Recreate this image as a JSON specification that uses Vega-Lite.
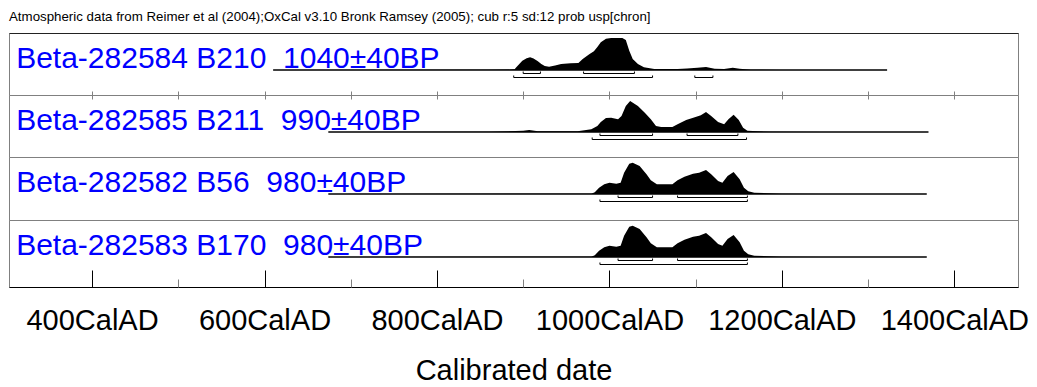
{
  "$schema": "https://vega.github.io/schema/vega-lite/v6.json",
  "autosize": {"type": "pad"},
  "padding": {"left": 8, "top": 10, "right": 12, "bottom": 2},
  "background": "white",
  "title": {"text": "Atmospheric data from Reimer et al (2004);OxCal v3.10 Bronk Ramsey (2005); cub r:5 sd:12 prob usp[chron]", "anchor": "start", "frame": "group", "font": "Liberation Sans", "fontSize": 13.3, "fontWeight": "normal", "color": "#000000", "baseline": "alphabetic", "offset": -2},
  "spacing": 0,
  "bounds": "flush",
  "config": {"view": {"stroke": "#808080", "strokeWidth": 1}, "axis": {"grid": false}},
  "datasets": {
    "dens": [
      {"s": "B210", "year": 610, "p": 0}, {"s": "B210", "year": 860, "p": 0.2}, {"s": "B210", "year": 886, "p": 0.4}, {"s": "B210", "year": 890, "p": 0.8}, {"s": "B210", "year": 892, "p": 2.7}, {"s": "B210", "year": 899, "p": 9.3}, {"s": "B210", "year": 904, "p": 11.8}, {"s": "B210", "year": 908, "p": 12.7}, {"s": "B210", "year": 912, "p": 11.5}, {"s": "B210", "year": 917, "p": 8.7}, {"s": "B210", "year": 921, "p": 6}, {"s": "B210", "year": 925, "p": 4}, {"s": "B210", "year": 930, "p": 3.3}, {"s": "B210", "year": 937, "p": 4.5}, {"s": "B210", "year": 944, "p": 6}, {"s": "B210", "year": 955, "p": 6.7}, {"s": "B210", "year": 964, "p": 7}, {"s": "B210", "year": 969, "p": 11}, {"s": "B210", "year": 977, "p": 16}, {"s": "B210", "year": 982, "p": 18.7}, {"s": "B210", "year": 986, "p": 23}, {"s": "B210", "year": 990, "p": 27.7}, {"s": "B210", "year": 996, "p": 31.3}, {"s": "B210", "year": 1002, "p": 32}, {"s": "B210", "year": 1015, "p": 32}, {"s": "B210", "year": 1019, "p": 30}, {"s": "B210", "year": 1023, "p": 19.3}, {"s": "B210", "year": 1027, "p": 11}, {"s": "B210", "year": 1033, "p": 6}, {"s": "B210", "year": 1040, "p": 2.7}, {"s": "B210", "year": 1052, "p": 1}, {"s": "B210", "year": 1079, "p": 1}, {"s": "B210", "year": 1090, "p": 1.6}, {"s": "B210", "year": 1102, "p": 2.3}, {"s": "B210", "year": 1112, "p": 3}, {"s": "B210", "year": 1122, "p": 1.3}, {"s": "B210", "year": 1133, "p": 1}, {"s": "B210", "year": 1143, "p": 2.3}, {"s": "B210", "year": 1151, "p": 1.3}, {"s": "B210", "year": 1164, "p": 0.3}, {"s": "B210", "year": 1200, "p": 0.1}, {"s": "B210", "year": 1322, "p": 0},
      {"s": "B211", "year": 674, "p": 0}, {"s": "B211", "year": 860, "p": 0.2}, {"s": "B211", "year": 900, "p": 1.2}, {"s": "B211", "year": 907, "p": 2}, {"s": "B211", "year": 917, "p": 0.7}, {"s": "B211", "year": 963, "p": 0.7}, {"s": "B211", "year": 979, "p": 2.7}, {"s": "B211", "year": 986, "p": 6}, {"s": "B211", "year": 990, "p": 10}, {"s": "B211", "year": 996, "p": 14}, {"s": "B211", "year": 1002, "p": 14.3}, {"s": "B211", "year": 1010, "p": 12.7}, {"s": "B211", "year": 1014, "p": 16}, {"s": "B211", "year": 1019, "p": 26}, {"s": "B211", "year": 1024, "p": 31}, {"s": "B211", "year": 1033, "p": 26}, {"s": "B211", "year": 1041, "p": 19.3}, {"s": "B211", "year": 1048, "p": 12.7}, {"s": "B211", "year": 1054, "p": 6}, {"s": "B211", "year": 1060, "p": 5}, {"s": "B211", "year": 1073, "p": 5}, {"s": "B211", "year": 1079, "p": 7.7}, {"s": "B211", "year": 1089, "p": 12}, {"s": "B211", "year": 1099, "p": 14.7}, {"s": "B211", "year": 1106, "p": 16.7}, {"s": "B211", "year": 1112, "p": 20}, {"s": "B211", "year": 1118, "p": 16}, {"s": "B211", "year": 1126, "p": 10}, {"s": "B211", "year": 1133, "p": 7.7}, {"s": "B211", "year": 1138, "p": 12.7}, {"s": "B211", "year": 1144, "p": 17.3}, {"s": "B211", "year": 1150, "p": 12}, {"s": "B211", "year": 1155, "p": 4.3}, {"s": "B211", "year": 1160, "p": 1.3}, {"s": "B211", "year": 1172, "p": 0.7}, {"s": "B211", "year": 1187, "p": 0.3}, {"s": "B211", "year": 1250, "p": 0.1}, {"s": "B211", "year": 1370, "p": 0},
      {"s": "B56", "year": 674, "p": 0}, {"s": "B56", "year": 900, "p": 0.2}, {"s": "B56", "year": 979, "p": 0.3}, {"s": "B56", "year": 983, "p": 1.7}, {"s": "B56", "year": 988, "p": 6.3}, {"s": "B56", "year": 994, "p": 9.7}, {"s": "B56", "year": 1000, "p": 11.3}, {"s": "B56", "year": 1008, "p": 10.3}, {"s": "B56", "year": 1013, "p": 11.3}, {"s": "B56", "year": 1017, "p": 21.3}, {"s": "B56", "year": 1023, "p": 30.3}, {"s": "B56", "year": 1027, "p": 31.3}, {"s": "B56", "year": 1035, "p": 28}, {"s": "B56", "year": 1043, "p": 19.7}, {"s": "B56", "year": 1048, "p": 13.7}, {"s": "B56", "year": 1055, "p": 9.7}, {"s": "B56", "year": 1073, "p": 9.7}, {"s": "B56", "year": 1079, "p": 13.7}, {"s": "B56", "year": 1087, "p": 17.3}, {"s": "B56", "year": 1097, "p": 20.3}, {"s": "B56", "year": 1104, "p": 21.3}, {"s": "B56", "year": 1112, "p": 24}, {"s": "B56", "year": 1118, "p": 19.7}, {"s": "B56", "year": 1126, "p": 13}, {"s": "B56", "year": 1131, "p": 11.3}, {"s": "B56", "year": 1137, "p": 18}, {"s": "B56", "year": 1144, "p": 22}, {"s": "B56", "year": 1151, "p": 14.7}, {"s": "B56", "year": 1156, "p": 6.3}, {"s": "B56", "year": 1161, "p": 2.7}, {"s": "B56", "year": 1168, "p": 1.3}, {"s": "B56", "year": 1184, "p": 0.7}, {"s": "B56", "year": 1199, "p": 0.3}, {"s": "B56", "year": 1250, "p": 0.1}, {"s": "B56", "year": 1368, "p": 0},
      {"s": "B170", "year": 674, "p": 0}, {"s": "B170", "year": 900, "p": 0.2}, {"s": "B170", "year": 979, "p": 0.3}, {"s": "B170", "year": 983, "p": 1.7}, {"s": "B170", "year": 988, "p": 6.3}, {"s": "B170", "year": 994, "p": 9.7}, {"s": "B170", "year": 1000, "p": 11.3}, {"s": "B170", "year": 1008, "p": 10.3}, {"s": "B170", "year": 1013, "p": 11.3}, {"s": "B170", "year": 1017, "p": 21.3}, {"s": "B170", "year": 1023, "p": 30.3}, {"s": "B170", "year": 1027, "p": 31.3}, {"s": "B170", "year": 1035, "p": 28}, {"s": "B170", "year": 1043, "p": 19.7}, {"s": "B170", "year": 1048, "p": 13.7}, {"s": "B170", "year": 1055, "p": 9.7}, {"s": "B170", "year": 1073, "p": 9.7}, {"s": "B170", "year": 1079, "p": 13.7}, {"s": "B170", "year": 1087, "p": 17.3}, {"s": "B170", "year": 1097, "p": 20.3}, {"s": "B170", "year": 1104, "p": 21.3}, {"s": "B170", "year": 1112, "p": 24}, {"s": "B170", "year": 1118, "p": 19.7}, {"s": "B170", "year": 1126, "p": 13}, {"s": "B170", "year": 1131, "p": 11.3}, {"s": "B170", "year": 1137, "p": 18}, {"s": "B170", "year": 1144, "p": 22}, {"s": "B170", "year": 1151, "p": 14.7}, {"s": "B170", "year": 1156, "p": 6.3}, {"s": "B170", "year": 1161, "p": 2.7}, {"s": "B170", "year": 1168, "p": 1.3}, {"s": "B170", "year": 1184, "p": 0.7}, {"s": "B170", "year": 1199, "p": 0.3}, {"s": "B170", "year": 1250, "p": 0.1}, {"s": "B170", "year": 1368, "p": 0}
    ],
    "base": [
      {"s": "B210", "from": 610, "to": 1322},
      {"s": "B211", "from": 674, "to": 1370},
      {"s": "B56", "from": 674, "to": 1368},
      {"s": "B170", "from": 674, "to": 1368}
    ],
    "ranges": [
      {"s": "B210", "lvl": 1, "from": 900, "to": 920}, {"s": "B210", "lvl": 1, "from": 970, "to": 1029}, {"s": "B210", "lvl": 2, "from": 889, "to": 1050}, {"s": "B210", "lvl": 2, "from": 1099, "to": 1120},
      {"s": "B211", "lvl": 1, "from": 989, "to": 1050}, {"s": "B211", "lvl": 1, "from": 1090, "to": 1149}, {"s": "B211", "lvl": 2, "from": 980, "to": 1159},
      {"s": "B56", "lvl": 1, "from": 1010, "to": 1050}, {"s": "B56", "lvl": 1, "from": 1079, "to": 1160}, {"s": "B56", "lvl": 2, "from": 989, "to": 1160},
      {"s": "B170", "lvl": 1, "from": 1010, "to": 1050}, {"s": "B170", "lvl": 1, "from": 1079, "to": 1160}, {"s": "B170", "lvl": 2, "from": 989, "to": 1160}
    ],
    "labels": [
      {"s": "B210", "label": "Beta-282584 B210 \u00a01040±40BP"},
      {"s": "B211", "label": "Beta-282585 B211 \u00a0990±40BP"},
      {"s": "B56", "label": "Beta-282582 B56 \u00a0980±40BP"},
      {"s": "B170", "label": "Beta-282583 B170 \u00a0980±40BP"}
    ]
  },
  "vconcat": [
    {
      "width": 1009, "height": 62,
      "resolve": {"axis": {"x": "independent"}},
      "layer": [
        {"data": {"name": "dens"}, "transform": [{"filter": "datum.s === 'B210'"}], "mark": {"type": "area", "color": "#000000", "interpolate": "linear"},
         "encoding": {"x": {"field": "year", "type": "quantitative", "scale": {"domain": [303.7, 1473.8], "nice": false, "zero": false}, "axis": {"orient": "bottom", "offset": -4, "values": [400, 500, 600, 700, 800, 900, 1000, 1100, 1200, 1300, 1400], "tickSize": 8, "tickColor": "#808080", "domain": false, "labels": false, "title": null}},
                      "y": {"field": "p", "type": "quantitative", "scale": {"domain": [-25, 37], "nice": false, "zero": false}, "axis": {"orient": "right", "domainColor": "#000000", "ticks": false, "labels": false, "title": null}},
                      "y2": {"datum": 0}}},
        {"data": {"name": "base"}, "transform": [{"filter": "datum.s === 'B210'"}], "mark": {"type": "rule", "color": "#000000", "strokeWidth": 1.5},
         "encoding": {"x": {"field": "from", "type": "quantitative", "axis": {"orient": "top", "domainColor": "#222222", "ticks": false, "labels": false, "title": null}}, "x2": {"field": "to"}, "y": {"datum": 0, "axis": null}}},
        {"data": {"name": "labels"}, "transform": [{"filter": "datum.s === 'B210'"}], "mark": {"type": "text", "align": "left", "baseline": "alphabetic", "font": "Liberation Sans", "fontSize": 30, "color": "#0000ff"},
         "encoding": {"x": {"datum": 312, "axis": null}, "y": {"datum": 2.5, "axis": null}, "text": {"field": "label"}}},
        {"data": {"name": "ranges"}, "transform": [{"filter": "datum.s === 'B210' && datum.lvl === 1"}], "mark": {"type": "rule", "color": "#000000", "strokeWidth": 1},
         "encoding": {"x": {"field": "from", "type": "quantitative", "axis": null}, "x2": {"field": "to"}, "y": {"datum": -3.5, "axis": null}}},
        {"data": {"name": "ranges"}, "transform": [{"filter": "datum.s === 'B210' && datum.lvl === 1"}, {"fold": ["from", "to"], "as": ["k", "v"]}], "mark": {"type": "rule", "color": "#000000", "strokeWidth": 1},
         "encoding": {"x": {"field": "v", "type": "quantitative", "axis": null}, "y": {"datum": -3.5, "axis": null}, "y2": {"datum": -1.5}}},
        {"data": {"name": "ranges"}, "transform": [{"filter": "datum.s === 'B210' && datum.lvl === 2"}], "mark": {"type": "rule", "color": "#000000", "strokeWidth": 1},
         "encoding": {"x": {"field": "from", "type": "quantitative", "axis": null}, "x2": {"field": "to"}, "y": {"datum": -7.5, "axis": null}}},
        {"data": {"name": "ranges"}, "transform": [{"filter": "datum.s === 'B210' && datum.lvl === 2"}, {"fold": ["from", "to"], "as": ["k", "v"]}], "mark": {"type": "rule", "color": "#000000", "strokeWidth": 1},
         "encoding": {"x": {"field": "v", "type": "quantitative", "axis": null}, "y": {"datum": -7.5, "axis": null}, "y2": {"datum": -5.5}}}
      ]
    },
    {
      "width": 1009, "height": 62,
      "layer": [
        {"data": {"name": "dens"}, "transform": [{"filter": "datum.s === 'B211'"}], "mark": {"type": "area", "color": "#000000", "interpolate": "linear"},
         "encoding": {"x": {"field": "year", "type": "quantitative", "scale": {"domain": [303.7, 1473.8], "nice": false, "zero": false}, "axis": {"orient": "bottom", "offset": -4, "values": [400, 500, 600, 700, 800, 900, 1000, 1100, 1200, 1300, 1400], "tickSize": 8, "tickColor": "#808080", "domain": false, "labels": false, "title": null}},
                      "y": {"field": "p", "type": "quantitative", "scale": {"domain": [-25, 37], "nice": false, "zero": false}, "axis": {"orient": "right", "domainColor": "#000000", "ticks": false, "labels": false, "title": null}},
                      "y2": {"datum": 0}}},
        {"data": {"name": "base"}, "transform": [{"filter": "datum.s === 'B211'"}], "mark": {"type": "rule", "color": "#000000", "strokeWidth": 1.5},
         "encoding": {"x": {"field": "from", "type": "quantitative", "axis": null}, "x2": {"field": "to"}, "y": {"datum": 0, "axis": null}}},
        {"data": {"name": "labels"}, "transform": [{"filter": "datum.s === 'B211'"}], "mark": {"type": "text", "align": "left", "baseline": "alphabetic", "font": "Liberation Sans", "fontSize": 30, "color": "#0000ff"},
         "encoding": {"x": {"datum": 312, "axis": null}, "y": {"datum": 2, "axis": null}, "text": {"field": "label"}}},
        {"data": {"name": "ranges"}, "transform": [{"filter": "datum.s === 'B211' && datum.lvl === 1"}], "mark": {"type": "rule", "color": "#000000", "strokeWidth": 1},
         "encoding": {"x": {"field": "from", "type": "quantitative", "axis": null}, "x2": {"field": "to"}, "y": {"datum": -3.5, "axis": null}}},
        {"data": {"name": "ranges"}, "transform": [{"filter": "datum.s === 'B211' && datum.lvl === 1"}, {"fold": ["from", "to"], "as": ["k", "v"]}], "mark": {"type": "rule", "color": "#000000", "strokeWidth": 1},
         "encoding": {"x": {"field": "v", "type": "quantitative", "axis": null}, "y": {"datum": -3.5, "axis": null}, "y2": {"datum": -1.5}}},
        {"data": {"name": "ranges"}, "transform": [{"filter": "datum.s === 'B211' && datum.lvl === 2"}], "mark": {"type": "rule", "color": "#000000", "strokeWidth": 1},
         "encoding": {"x": {"field": "from", "type": "quantitative", "axis": null}, "x2": {"field": "to"}, "y": {"datum": -7.5, "axis": null}}},
        {"data": {"name": "ranges"}, "transform": [{"filter": "datum.s === 'B211' && datum.lvl === 2"}, {"fold": ["from", "to"], "as": ["k", "v"]}], "mark": {"type": "rule", "color": "#000000", "strokeWidth": 1},
         "encoding": {"x": {"field": "v", "type": "quantitative", "axis": null}, "y": {"datum": -7.5, "axis": null}, "y2": {"datum": -5.5}}}
      ]
    },
    {
      "width": 1009, "height": 63,
      "layer": [
        {"data": {"name": "dens"}, "transform": [{"filter": "datum.s === 'B56'"}], "mark": {"type": "area", "color": "#000000", "interpolate": "linear"},
         "encoding": {"x": {"field": "year", "type": "quantitative", "scale": {"domain": [303.7, 1473.8], "nice": false, "zero": false}, "axis": {"orient": "bottom", "offset": -4, "values": [400, 500, 600, 700, 800, 900, 1000, 1100, 1200, 1300, 1400], "tickSize": 8, "tickColor": "#808080", "domain": false, "labels": false, "title": null}},
                      "y": {"field": "p", "type": "quantitative", "scale": {"domain": [-26, 37], "nice": false, "zero": false}, "axis": {"orient": "right", "domainColor": "#000000", "ticks": false, "labels": false, "title": null}},
                      "y2": {"datum": 0}}},
        {"data": {"name": "base"}, "transform": [{"filter": "datum.s === 'B56'"}], "mark": {"type": "rule", "color": "#000000", "strokeWidth": 1.5},
         "encoding": {"x": {"field": "from", "type": "quantitative", "axis": null}, "x2": {"field": "to"}, "y": {"datum": 0, "axis": null}}},
        {"data": {"name": "labels"}, "transform": [{"filter": "datum.s === 'B56'"}], "mark": {"type": "text", "align": "left", "baseline": "alphabetic", "font": "Liberation Sans", "fontSize": 30, "color": "#0000ff"},
         "encoding": {"x": {"datum": 312, "axis": null}, "y": {"datum": 2, "axis": null}, "text": {"field": "label"}}},
        {"data": {"name": "ranges"}, "transform": [{"filter": "datum.s === 'B56' && datum.lvl === 1"}], "mark": {"type": "rule", "color": "#000000", "strokeWidth": 1},
         "encoding": {"x": {"field": "from", "type": "quantitative", "axis": null}, "x2": {"field": "to"}, "y": {"datum": -3.5, "axis": null}}},
        {"data": {"name": "ranges"}, "transform": [{"filter": "datum.s === 'B56' && datum.lvl === 1"}, {"fold": ["from", "to"], "as": ["k", "v"]}], "mark": {"type": "rule", "color": "#000000", "strokeWidth": 1},
         "encoding": {"x": {"field": "v", "type": "quantitative", "axis": null}, "y": {"datum": -3.5, "axis": null}, "y2": {"datum": -1.5}}},
        {"data": {"name": "ranges"}, "transform": [{"filter": "datum.s === 'B56' && datum.lvl === 2"}], "mark": {"type": "rule", "color": "#000000", "strokeWidth": 1},
         "encoding": {"x": {"field": "from", "type": "quantitative", "axis": null}, "x2": {"field": "to"}, "y": {"datum": -7.5, "axis": null}}},
        {"data": {"name": "ranges"}, "transform": [{"filter": "datum.s === 'B56' && datum.lvl === 2"}, {"fold": ["from", "to"], "as": ["k", "v"]}], "mark": {"type": "rule", "color": "#000000", "strokeWidth": 1},
         "encoding": {"x": {"field": "v", "type": "quantitative", "axis": null}, "y": {"datum": -7.5, "axis": null}, "y2": {"datum": -5.5}}}
      ]
    },
    {
      "width": 1009, "height": 67,
      "resolve": {"axis": {"x": "independent"}},
      "layer": [
        {"data": {"name": "dens"}, "transform": [{"filter": "datum.s === 'B170'"}], "mark": {"type": "area", "color": "#000000", "interpolate": "linear"},
         "encoding": {"x": {"field": "year", "type": "quantitative", "scale": {"domain": [303.7, 1473.8], "nice": false, "zero": false}, "axis": {"orient": "bottom", "values": [400, 600, 800, 1000, 1200, 1400], "tickSize": -17, "tickColor": "#000000", "domainColor": "#000000", "labelExpr": "datum.value + 'CalAD'", "labelFont": "Liberation Sans", "labelFontSize": 29, "labelColor": "#000000", "labelPadding": 36, "labelFlush": false, "labelOverlap": false, "title": "Calibrated date", "titleFont": "Liberation Sans", "titleFontSize": 29, "titleFontWeight": "normal", "titleColor": "#000000", "titlePadding": 21}},
                      "y": {"field": "p", "type": "quantitative", "scale": {"domain": [-30, 37], "nice": false, "zero": false}, "axis": {"orient": "right", "domainColor": "#000000", "ticks": false, "labels": false, "title": null}},
                      "y2": {"datum": 0}}},
        {"data": {"name": "base"}, "transform": [{"filter": "datum.s === 'B170'"}], "mark": {"type": "rule", "color": "#000000", "strokeWidth": 1.5},
         "encoding": {"x": {"field": "from", "type": "quantitative", "axis": {"orient": "bottom", "values": [500, 700, 900, 1100, 1300], "tickSize": -8, "tickColor": "#808080", "domain": false, "labels": false, "title": null}}, "x2": {"field": "to"}, "y": {"datum": 0, "axis": null}}},
        {"data": {"name": "labels"}, "transform": [{"filter": "datum.s === 'B170'"}], "mark": {"type": "text", "align": "left", "baseline": "alphabetic", "font": "Liberation Sans", "fontSize": 30, "color": "#0000ff"},
         "encoding": {"x": {"datum": 312, "axis": null}, "y": {"datum": 2, "axis": null}, "text": {"field": "label"}}},
        {"data": {"name": "ranges"}, "transform": [{"filter": "datum.s === 'B170' && datum.lvl === 1"}], "mark": {"type": "rule", "color": "#000000", "strokeWidth": 1},
         "encoding": {"x": {"field": "from", "type": "quantitative", "axis": null}, "x2": {"field": "to"}, "y": {"datum": -3.5, "axis": null}}},
        {"data": {"name": "ranges"}, "transform": [{"filter": "datum.s === 'B170' && datum.lvl === 1"}, {"fold": ["from", "to"], "as": ["k", "v"]}], "mark": {"type": "rule", "color": "#000000", "strokeWidth": 1},
         "encoding": {"x": {"field": "v", "type": "quantitative", "axis": null}, "y": {"datum": -3.5, "axis": null}, "y2": {"datum": -1.5}}},
        {"data": {"name": "ranges"}, "transform": [{"filter": "datum.s === 'B170' && datum.lvl === 2"}], "mark": {"type": "rule", "color": "#000000", "strokeWidth": 1},
         "encoding": {"x": {"field": "from", "type": "quantitative", "axis": null}, "x2": {"field": "to"}, "y": {"datum": -7.5, "axis": null}}},
        {"data": {"name": "ranges"}, "transform": [{"filter": "datum.s === 'B170' && datum.lvl === 2"}, {"fold": ["from", "to"], "as": ["k", "v"]}], "mark": {"type": "rule", "color": "#000000", "strokeWidth": 1},
         "encoding": {"x": {"field": "v", "type": "quantitative", "axis": null}, "y": {"datum": -7.5, "axis": null}, "y2": {"datum": -5.5}}}
      ]
    }
  ]
}
